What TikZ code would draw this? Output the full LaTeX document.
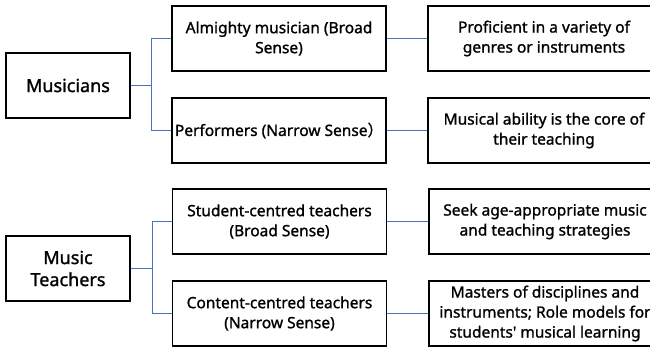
\documentclass[tikz,border=0pt]{standalone}
\usepackage{fontspec}
\setmainfont{Noto Sans}[FakeBold=1.2,Ligatures=TeXOff]
\newfontfamily\cjk{Noto Sans CJK SC}[FakeBold=1.2]
\begin{document}
\begin{tikzpicture}[x=1pt,y=-1pt,
  box/.style={draw=black,line width=1.3pt,align=center,inner sep=0pt,
    font=\fontsize{15.5}{20}\selectfont},
  rootbox/.style={box,minimum width=124pt,minimum height=65pt,
    font=\fontsize{18}{22}\selectfont},
  midbox/.style={box,minimum width=214pt,minimum height=65pt},
  leafbox/.style={box,minimum width=232pt,minimum height=65pt},
  link/.style={draw={rgb,255:red,68;green,114;blue,196},line width=1pt}]
\useasboundingbox (0,0) rectangle (650,347);
\clip (0,0) rectangle (650,347);

% upper tree
\node[rootbox] (mus) at (68,85.5) {Musicians};
\node[midbox] (alm) at (279,38.5) {Almighty musician (Broad\\Sense)};
\node[midbox] (perf) at (279,130.5) {Performers (Narrow Sense{\cjk ）}};
\node[leafbox] (prof) at (544,38.5) {Proficient in a variety of\\genres or instruments};
\node[leafbox] (abil) at (544,130.5) {Musical ability is the core of\\their teaching};

% lower tree
\node[rootbox] (mt) at (68,268.5) {Music\\Teachers};
\node[midbox] (stud) at (279.5,221.5) {Student-centred teachers\\(Broad Sense)};
\node[midbox] (cont) at (279.5,313.5) {Content-centred teachers\\(Narrow Sense)};
\node[leafbox] (seek) at (545,221.5) {Seek age-appropriate music\\and teaching strategies};
\node[leafbox] (mast) at (545,313.5) {Masters of disciplines and\\instruments; Role models for\\students' musical learning};

% connectors
\draw[link] (mus.east) -- ++(21,0) coordinate (j1);
\draw[link] (j1) |- (alm.west);
\draw[link] (j1) |- (perf.west);
\draw[link] (alm) -- (prof);
\draw[link] (perf) -- (abil);

\draw[link] (mt.east) -- ++(22,0) coordinate (j2);
\draw[link] (j2) |- (stud.west);
\draw[link] (j2) |- (cont.west);
\draw[link] (stud) -- (seek);
\draw[link] (cont) -- (mast);
\end{tikzpicture}
\end{document}
